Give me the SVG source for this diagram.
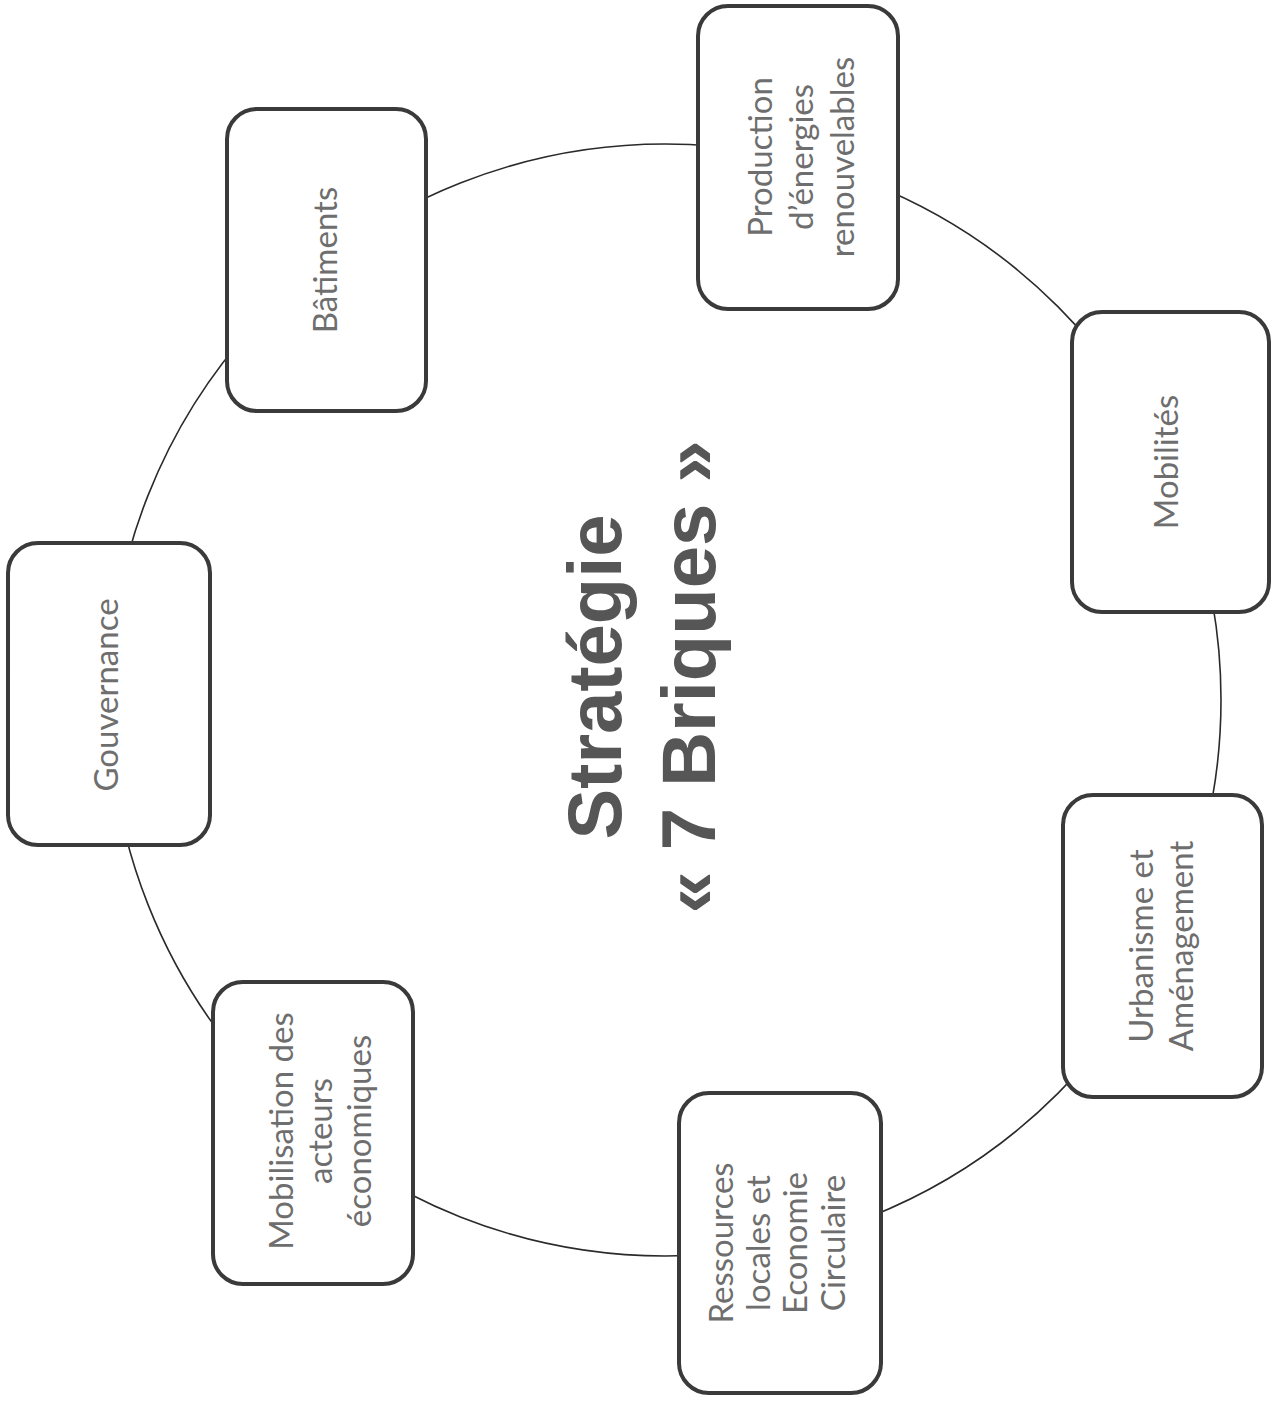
<svg xmlns="http://www.w3.org/2000/svg" width="1278" height="1404" viewBox="0 0 1278 1404">
<style>
.box{fill:#fff;stroke:#3a3a3a;stroke-width:4}
.lbl{font-family:Lato,"Open Sans",sans-serif;font-size:33px;fill:#6e6e6e;text-anchor:middle}
.title{font-family:"Liberation Sans",Arial,sans-serif;font-weight:bold;font-size:76px;fill:#565656;text-anchor:middle}
.ring{fill:none;stroke:#2a2a2a;stroke-width:1.6}
</style>
<rect width="1278" height="1404" fill="#fff"/>
<g id="connectors">
<circle class="ring" cx="665" cy="700" r="556"/>
</g>
<g id="title">
<text class="title" transform="translate(0,677) rotate(-90)"><tspan x="0" y="621">Stratégie</tspan><tspan x="0" y="715">« 7 Briques »</tspan></text>
</g>
<g id="node-production">
<rect class="box" x="698" y="6" width="200" height="303" rx="30"/>
<text class="lbl" transform="translate(0,157) rotate(-90)"><tspan x="0" y="772">Production</tspan><tspan x="0" y="813">d’énergies</tspan><tspan x="0" y="854">renouvelables</tspan></text>
</g>
<g id="node-batiments">
<rect class="box" x="227" y="109" width="199" height="302" rx="30"/>
<text class="lbl" transform="translate(0,260) rotate(-90)"><tspan x="0" y="337">Bâtiments</tspan></text>
</g>
<g id="node-mobilites">
<rect class="box" x="1072" y="312" width="197" height="300" rx="30"/>
<text class="lbl" transform="translate(0,462) rotate(-90)"><tspan x="0" y="1178">Mobilités</tspan></text>
</g>
<g id="node-gouvernance">
<rect class="box" x="8" y="543" width="202" height="302" rx="30"/>
<text class="lbl" transform="translate(0,695) rotate(-90)"><tspan x="0" y="118">Gouvernance</tspan></text>
</g>
<g id="node-urbanisme">
<rect class="box" x="1063" y="795" width="199" height="302" rx="30"/>
<text class="lbl" transform="translate(0,946) rotate(-90)"><tspan x="0" y="1153">Urbanisme et</tspan><tspan x="0" y="1193">Aménagement</tspan></text>
</g>
<g id="node-mobilisation">
<rect class="box" x="213" y="982" width="200" height="302" rx="30"/>
<text class="lbl" transform="translate(0,1131) rotate(-90)"><tspan x="0" y="293">Mobilisation des</tspan><tspan x="0" y="332">acteurs</tspan><tspan x="0" y="371">économiques</tspan></text>
</g>
<g id="node-ressources">
<rect class="box" x="679" y="1093" width="202" height="300" rx="30"/>
<text class="lbl" transform="translate(0,1243) rotate(-90)"><tspan x="0" y="733">Ressources</tspan><tspan x="0" y="770">locales et</tspan><tspan x="0" y="807">Economie</tspan><tspan x="0" y="845">Circulaire</tspan></text>
</g>
</svg>
